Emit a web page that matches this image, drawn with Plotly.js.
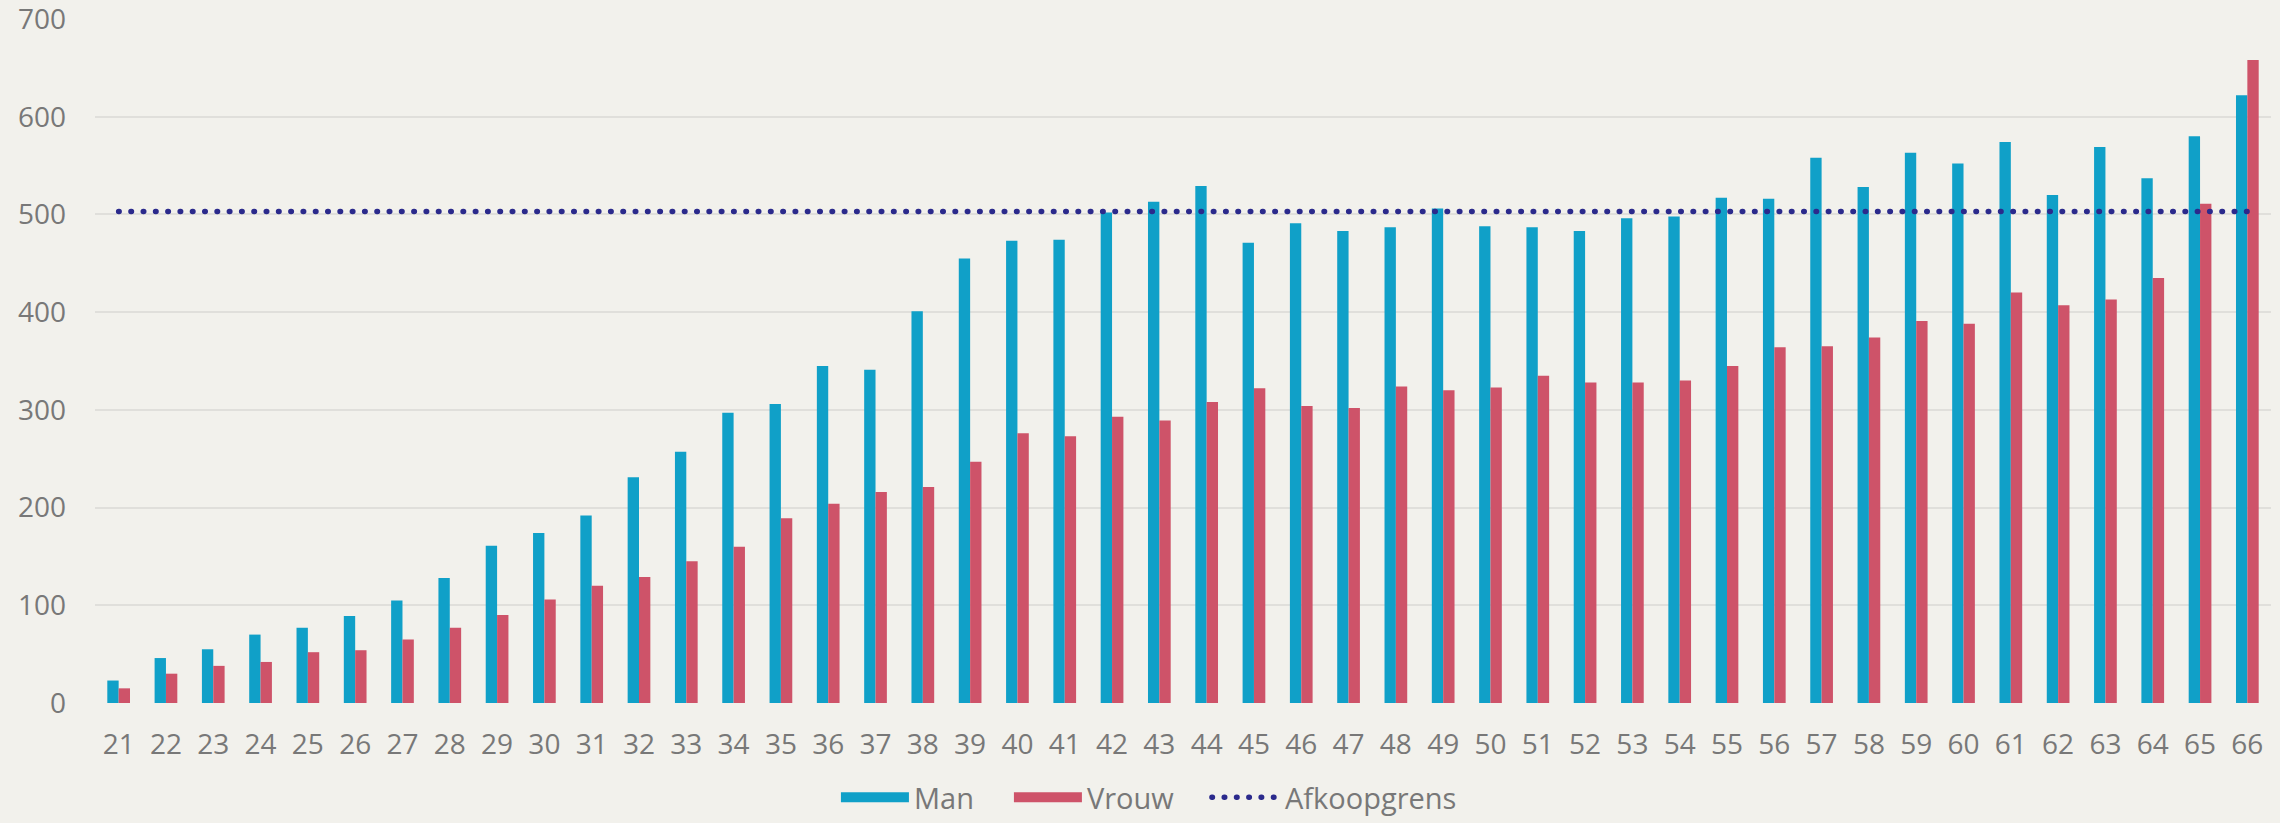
<!DOCTYPE html>
<html>
<head>
<meta charset="utf-8">
<script src="https://cdn.plot.ly/plotly-3.0.1.min.js"></script>
<style>
  html, body { margin: 0; padding: 0; background: #F2F1EC; }
  #chart { width: 2280px; height: 823px; }
</style>
</head>
<body>
<div id="chart"></div>
<script>
// Leeftijd (age) categories
const ages = ['21','22','23','24','25','26','27','28','29','30','31','32','33','34','35','36','37','38','39','40','41','42','43','44','45','46','47','48','49','50','51','52','53','54','55','56','57','58','59','60','61','62','63','64','65','66'];

// Man values
const man = [23,46,55,70,77,89,105,128,161,174,192,231,257,297,306,345,341,401,455,473,474,502,513,529,471,491,483,487,506,488,487,483,496,498,517,516,558,528,563,552,574,520,569,537,580,622];

// Vrouw values
const vrouw = [15,30,38,42,52,54,65,77,90,106,120,129,145,160,189,204,216,221,247,276,273,293,289,308,322,304,302,324,320,323,335,328,328,330,345,364,365,374,391,388,420,407,413,435,511,658];

// Afkoopgrens (buy-off threshold)
const afkoopgrens = 503;
const grensX = [ages[0], ages[ages.length - 1]];
const grensY = [afkoopgrens, afkoopgrens];

const yTicks = [0,100,200,300,400,500,600,700];

const BLUE = '#10A0C8';
const RED = '#CE5369';
const NAVY = '#2B2A8C';
const TEXT = '#787878';
const FONT = 'Open Sans, Lato, sans-serif';
const DOTS = '0.5px,11.8px';

const traces = [
  { type: 'bar', name: 'Man', x: ages, y: man, marker: { color: BLUE }, showlegend: false },
  { type: 'bar', name: 'Vrouw', x: ages, y: vrouw, marker: { color: RED }, showlegend: false },
  { type: 'scatter', mode: 'lines', name: 'Afkoopgrens', x: grensX, y: grensY,
    line: { color: NAVY, width: 5.5, dash: DOTS }, showlegend: false },
  // legend entries
  { type: 'scatter', mode: 'lines', name: 'Man', x: [null], y: [null], line: { color: BLUE, width: 18 }, legend: 'legend' },
  { type: 'scatter', mode: 'lines', name: 'Vrouw', x: [null], y: [null], line: { color: RED, width: 18 }, legend: 'legend2' },
  { type: 'scatter', mode: 'lines', name: 'Afkoopgrens', x: [null], y: [null], line: { color: NAVY, width: 5.5, dash: DOTS }, legend: 'legend3' }
];

function leg(x) {
  return {
    orientation: 'h',
    x: x, xanchor: 'left',
    yref: 'container',
    y: -0.005, yanchor: 'bottom',
    font: { family: FONT, size: 29, color: TEXT },
    itemwidth: 68,
    bgcolor: 'rgba(0,0,0,0)',
    borderwidth: 0
  };
}

const layout = {
  width: 2280,
  height: 823,
  paper_bgcolor: '#F2F1EC',
  plot_bgcolor: '#F2F1EC',
  font: { family: FONT, color: TEXT, size: 28 },
  margin: { l: 95, r: 9, t: 19, b: 120, pad: 0, autoexpand: false },
  barmode: 'group',
  bargap: 0.52,
  bargroupgap: 0,
  showlegend: true,
  legend: leg(0.3405),
  legend2: leg(0.420),
  legend3: leg(0.511),
  xaxis: {
    type: 'category',
    categoryorder: 'array',
    categoryarray: ages,
    showgrid: false,
    showline: false,
    zeroline: false,
    ticks: '',
    automargin: false,
    ticklabelstandoff: 22,
    ticklabeloverflow: 'allow',
    tickfont: { family: FONT, size: 28, color: TEXT },
    fixedrange: true
  },
  yaxis: {
    range: [0, 700],
    tickvals: yTicks,
    ticktext: yTicks.map(String),
    showgrid: true,
    gridcolor: '#E0DFDB',
    gridwidth: 2,
    zeroline: false,
    showline: false,
    ticks: '',
    automargin: false,
    ticklabelstandoff: 28,
    ticklabeloverflow: 'allow',
    tickfont: { family: FONT, size: 28, color: TEXT },
    fixedrange: true
  }
};

Plotly.newPlot('chart', traces, layout, { displayModeBar: false, staticPlot: true }).then(function (gd) {
  // round the dotted line caps so the dots look round
  gd.querySelectorAll('path').forEach(function (p) {
    const d = p.style.strokeDasharray;
    if (d && d !== 'none' && d.indexOf('0.5') === 0) {
      p.style.strokeLinecap = 'round';
    }
  });
});
</script>
</body>
</html>
